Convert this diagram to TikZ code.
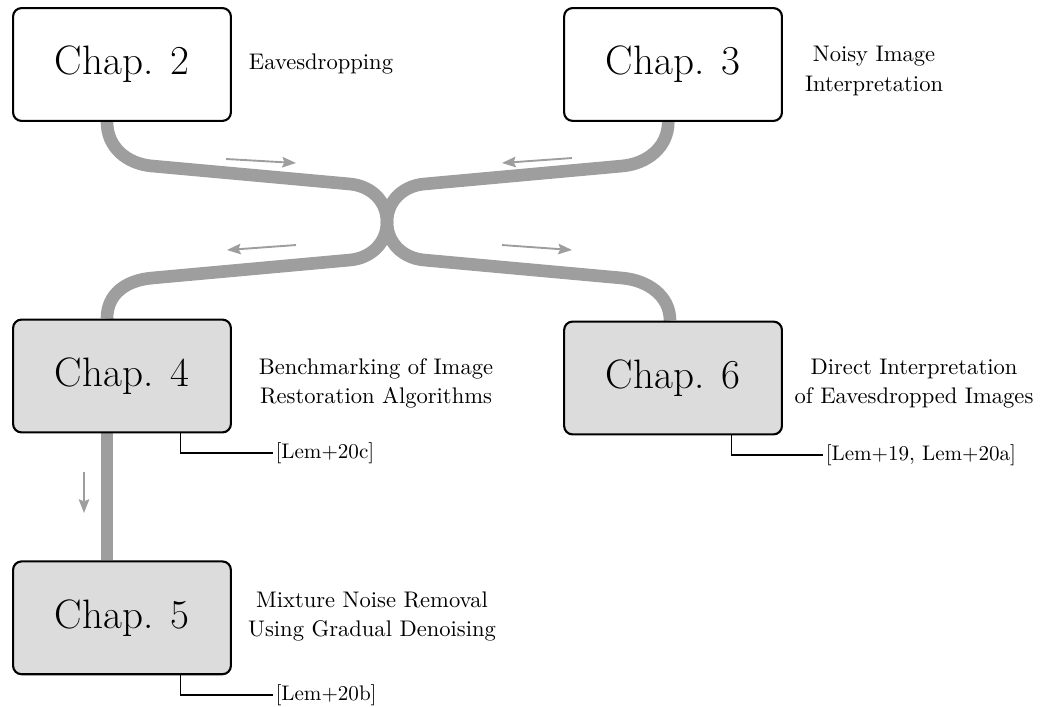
\documentclass[tikz,border=0pt]{standalone}
\usepackage{tikz}
\usetikzlibrary{arrows.meta, positioning, backgrounds}
\definecolor{bandgray}{RGB}{158,158,158}
\definecolor{boxgray}{RGB}{220,220,220}

\begin{document}
\begin{tikzpicture}[
  chap/.style={draw=black, line width=1pt, rounded corners=4pt, minimum width=3.63cm, minimum height=1.88cm, inner sep=0pt, font=\fontsize{19.5}{24}\selectfont},
  todo/.style={chap, fill=white},
  done/.style={chap, fill=boxgray},
  topic/.style={align=center, inner sep=0pt, font=\fontsize{10.7}{14}\selectfont},
  cite/.style={anchor=west, inner sep=1pt, font=\fontsize{10}{12}\selectfont},
  band/.style={draw=bandgray, line width=6pt},
  flow/.style={draw=bandgray, line width=0.9pt, -{Stealth[length=6.5pt, width=5pt, inset=1pt]}},
  ref/.style={draw=black, line width=0.6pt}
]
\useasboundingbox (0,0) rectangle (17.383,11.767);

% Chapter boxes
\node[todo] (c2) at (2.033,10.692) {Chap. 2};
\node[todo] (c3) at (11.217,10.692) {Chap. 3};
\node[done] (c4) at (2.033,5.5) {Chap. 4};
\node[done] (c6) at (11.217,5.467) {Chap. 6};
\node[done] (c5) at (2.033,1.47) {Chap. 5};

% Topics
\node[topic] (t2) at (5.35,10.7) {Eavesdropping};
\node[topic] (t3) at (14.567,10.583) {Noisy Image\\Interpretation};
\node[topic] (t4) at (6.267,5.375) {Benchmarking of Image\\Restoration Algorithms};
\node[topic] (t6) at (15.233,5.375) {Direct Interpretation\\of Eavesdropped Images};
\node[topic] (t5) at (6.2,1.49) {Mixture Noise Removal\\Using Gradual Denoising};

% Publications
\node[cite] (r4) at (4.55,4.217) {[Lem+20c]};
\node[cite] (r6) at (13.72,4.183) {[Lem+19, Lem+20a]};
\node[cite] (r5) at (4.55,0.183) {[Lem+20b]};
\draw[ref] ([xshift=0.97cm]c4.south) |- (r4.west);
\draw[ref] ([xshift=0.97cm]c6.south) |- (r6.west);
\draw[ref] ([xshift=0.97cm]c5.south) |- (r5.west);

% Crossing bands
\coordinate (mid) at (6.45,8.067);
\begin{scope}[on background layer]
\draw[band] ([xshift=-0.25cm]c2.south) .. controls +(0,-0.42) and +(-0.42,0.036) .. (2.533,9.0)
  -- (5.833,8.7) .. controls +(0.35,-0.032) and +(0,0.35) .. (mid);
\draw[band] ([xshift=-0.08cm]c3.south) .. controls +(0,-0.42) and +(0.42,0.036) .. (10.367,9.0)
  -- (7.067,8.7) .. controls +(-0.35,-0.032) and +(0,0.35) .. (mid);
\draw[band] (mid) .. controls +(0,-0.35) and +(0.35,0.032) .. (5.833,7.433)
  -- (2.533,7.133) .. controls +(-0.42,-0.036) and +(0,0.42) .. ([xshift=-0.25cm]c4.north);
\draw[band] (mid) .. controls +(0,-0.35) and +(-0.35,0.032) .. (7.067,7.433)
  -- (10.367,7.133) .. controls +(0.42,-0.036) and +(0,0.42) .. ([xshift=-0.05cm]c6.north);
\draw[band] ([xshift=-0.25cm]c4.south) -- ([xshift=-0.25cm]c5.north);
\end{scope}

% Reading direction
\draw[flow] (3.767,9.117) -- (4.933,9.05);
\draw[flow] (9.533,9.133) -- (8.367,9.05);
\draw[flow] (4.933,7.683) -- (3.783,7.6);
\draw[flow] (8.367,7.683) -- (9.533,7.6);
\draw[flow] (1.4,3.9) -- (1.4,3.217);
\end{tikzpicture}
\end{document}
